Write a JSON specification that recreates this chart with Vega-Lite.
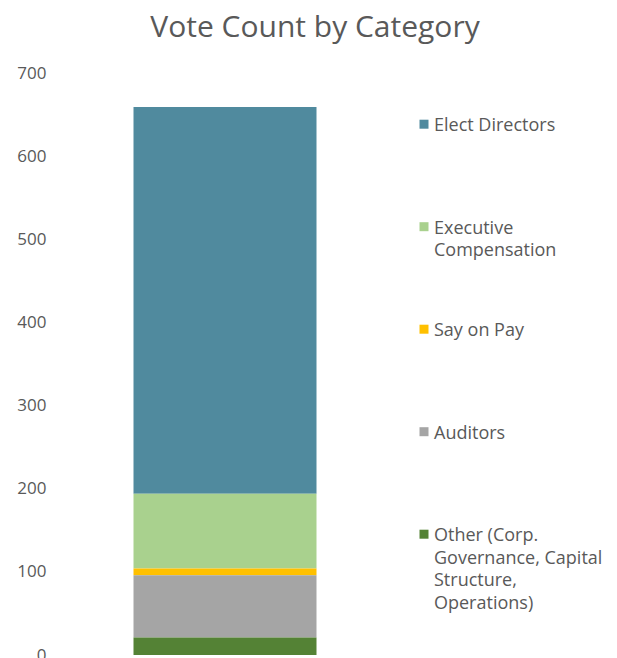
{
  "$schema": "https://vega.github.io/schema/vega-lite/v6.json",
  "width": 340,
  "height": 582,
  "autosize": {"type": "none"},
  "padding": {"left": 55, "top": 73, "right": 222, "bottom": 3},
  "background": "white",
  "title": {"text": "Vote Count by Category", "fontSize": 30, "font": "Open Sans", "fontWeight": "normal", "color": "#595959", "anchor": "middle", "frame": "group", "dx": 90, "offset": 21},
  "data": {"values": [
    {"group": "All", "category": "Elect Directors", "votes": 465, "rank": 5},
    {"group": "All", "category": "Executive Compensation", "votes": 90, "rank": 4},
    {"group": "All", "category": "Say on Pay", "votes": 8, "rank": 3},
    {"group": "All", "category": "Auditors", "votes": 75, "rank": 2},
    {"group": "All", "category": "Other (Corp. Governance, Capital Structure, Operations)", "votes": 21, "rank": 1}
  ]},
  "mark": {"type": "bar", "width": 183},
  "encoding": {
    "x": {"field": "group", "type": "nominal", "axis": null},
    "y": {"field": "votes", "type": "quantitative", "stack": "zero", "scale": {"domain": [0, 700]},
      "axis": {"title": null, "values": [0,100,200,300,400,500,600,700], "grid": false, "domain": false, "ticks": false, "labelPadding": 9, "labelFont": "Open Sans", "labelFontSize": 17, "labelColor": "#595959"}},
    "color": {"field": "category", "type": "nominal",
      "scale": {"domain": ["Elect Directors", "Executive Compensation", "Say on Pay", "Auditors", "Other (Corp. Governance, Capital Structure, Operations)"],
                "range": ["#508A9E", "#A9D18E", "#FFC000", "#A5A5A5", "#548235"]},
      "legend": {"title": null, "orient": "none", "legendX": 360, "legendY": 35, "symbolType": "M-1,0.6H1V2.6H-1Z", "symbolSize": 81, "symbolStrokeWidth": 0, "labelFont": "Open Sans", "labelFontSize": 18, "labelColor": "#595959", "labelOffset": 1, "labelBaseline": "top", "rowPadding": 7.5, "labelLimit": 300,
        "labelExpr": "datum.label == 'Elect Directors' ? ['Elect Directors','','',''] : datum.label == 'Executive Compensation' ? ['Executive','Compensation','',''] : datum.label == 'Say on Pay' ? ['Say on Pay','','',''] : datum.label == 'Auditors' ? ['Auditors','','',''] : ['Other (Corp.','Governance, Capital','Structure,','Operations)']"}},
    "order": {"field": "rank", "type": "quantitative"}
  },
  "config": {"view": {"stroke": null}, "style": {"guide-label": {"lineHeight": 22.5}}}
}
